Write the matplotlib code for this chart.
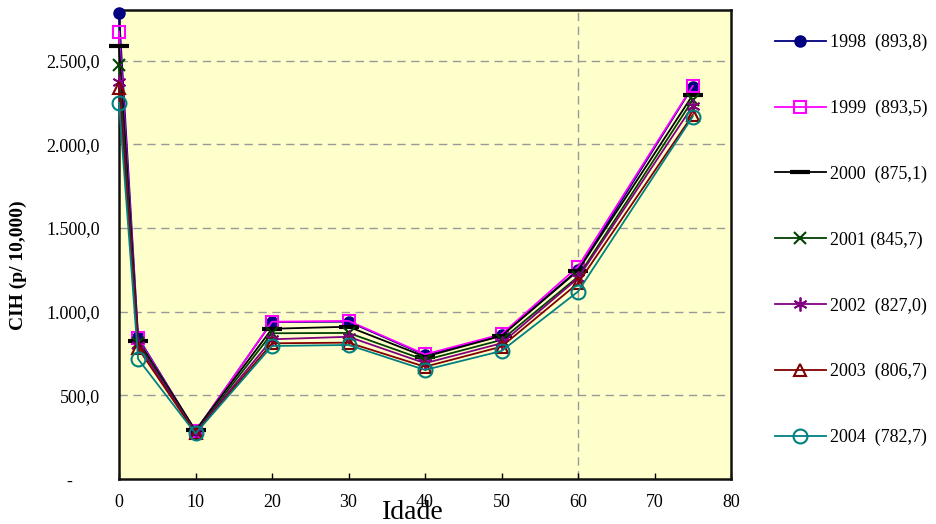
import matplotlib
matplotlib.use("Agg")
import matplotlib.pyplot as plt
from matplotlib.ticker import FixedLocator, FixedFormatter

plt.rcParams['font.family'] = ['Liberation Serif', 'DejaVu Serif']

# Age points (x) and hospitalisation rate per 10,000 for each year
idade = [0, 2.5, 10, 20, 30, 40, 50, 60, 75]

cih_1998 = [2784, 847, 285, 938, 940, 741, 860, 1249, 2345]
cih_1999 = [2674, 840, 285, 940, 945, 745, 865, 1269, 2349]
cih_2000 = [2590, 827, 290, 898, 910, 731, 855, 1245, 2295]
cih_2001 = [2475, 815, 280, 871, 873, 711, 831, 1209, 2265]
cih_2002 = [2375, 800, 278, 835, 850, 692, 811, 1200, 2230]
cih_2003 = [2335, 781, 275, 811, 815, 671, 791, 1170, 2176]
cih_2004 = [2249, 717, 272, 795, 801, 652, 765, 1120, 2166]

legendas = ["1998  (893,8)", "1999  (893,5)", "2000  (875,1)", "2001 (845,7)",
            "2002  (827,0)", "2003  (806,7)", "2004  (782,7)"]

x_ticks = [0, 10, 20, 30, 40, 50, 60, 70, 80]
y_ticks = [0, 500, 1000, 1500, 2000, 2500]
y_tick_labels = ["-      ", "500,0", "1.000,0", "1.500,0", "2.000,0", "2.500,0"]

series = [cih_1998, cih_1999, cih_2000, cih_2001, cih_2002, cih_2003, cih_2004]
estilos = [
    dict(color="#000080", marker="o", markersize=8, markerfacecolor="#000080"),
    dict(color="#FF00FF", marker="s", markersize=8, markerfacecolor="none", markeredgewidth=1.5),
    dict(color="#000000", marker="_", markersize=15, markeredgewidth=3),
    dict(color="#004000", marker="x", markersize=9, markeredgewidth=1.5),
    dict(color="#800080", marker=(6, 2, 0), markersize=10, markeredgewidth=1.3),
    dict(color="#800000", marker="^", markersize=9, markerfacecolor="none", markeredgewidth=1.5),
    dict(color="#008080", marker="o", markersize=10, markerfacecolor="none", markeredgewidth=1.5),
]

fig = plt.figure(figsize=(9.36, 5.24), dpi=100)
fig.patch.set_facecolor("white")
ax = fig.add_axes([119 / 936, 1 - 479 / 524, (731 - 119) / 936, (479 - 10) / 524])
ax.set_facecolor("#FFFFCC")

for vals, lab, st in zip(series, legendas, estilos):
    ax.plot(idade, vals, label=lab, linewidth=1.3, clip_on=False, zorder=3, **st)

ax.set_xlim(0, 80)
ax.set_ylim(0, 2803)

ax.xaxis.set_major_locator(FixedLocator(x_ticks))
ax.yaxis.set_major_locator(FixedLocator(y_ticks))
ax.yaxis.set_major_formatter(FixedFormatter(y_tick_labels))

ax.tick_params(axis="x", direction="in", length=4, width=1, pad=11, labelsize=13)
ax.tick_params(axis="y", length=0, pad=14, labelsize=13)

for v in y_ticks[1:]:
    ax.axhline(v, color="#999999", linestyle=(0, (6, 4)), linewidth=1, zorder=1)
ax.axvline(60, color="#999999", linestyle=(0, (6, 4)), linewidth=1, zorder=1)

for s in ax.spines.values():
    s.set_linewidth(1.8)
    s.set_color("#111111")

fig.text(18 / 936, 1 - 265 / 524, "CIH (p/ 10,000)", rotation=90, fontsize=14,
         fontweight="bold", ha="center", va="center")
fig.text(413 / 936, 1 - 519 / 524, "Idade", fontsize=20, ha="center", va="baseline")

fig.legend(loc="center left", bbox_to_anchor=(775 / 936, 1 - 240 / 524),
           frameon=False, fontsize=13, labelspacing=2.69, handlelength=2.82,
           handletextpad=0.25, borderpad=0, borderaxespad=0)

fig.savefig("out.png", dpi=100)
